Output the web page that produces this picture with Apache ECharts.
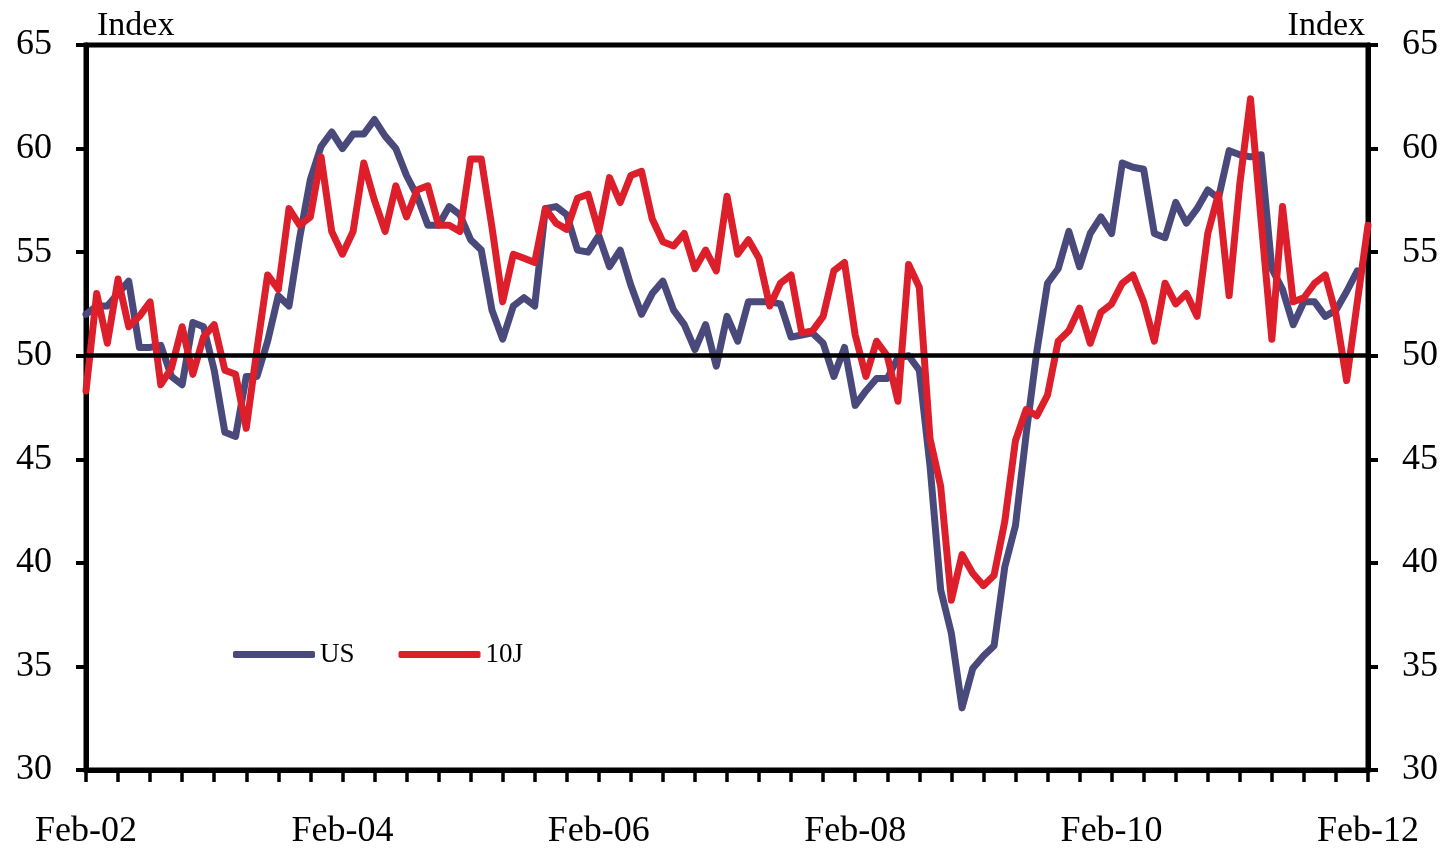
<!DOCTYPE html>
<html>
<head>
<meta charset="utf-8">
<script src="https://cdn.jsdelivr.net/npm/echarts@6/dist/echarts.min.js"></script>
<style>
  html, body { margin: 0; padding: 0; background: #fff; }
  #main { width: 1448px; height: 850px; }
</style>
</head>
<body>
<div id="main"></div>
<script>
// monthly, Feb-02 .. Feb-12
var monthNames = ['Jan', 'Feb', 'Mar', 'Apr', 'May', 'Jun', 'Jul', 'Aug', 'Sep', 'Oct', 'Nov', 'Dec'];
var startYear = 2002, startMonth = 1, nMonths = 121;

// US index (last reading Jan-12)
var usData = [
  52.0, 52.4, 52.4, 53.0, 53.6, 50.4, 50.4, 50.5, 49.0, 48.6, 51.6, 51.4,
  49.3, 46.3, 46.1, 49.0, 49.0, 50.7, 52.9, 52.4, 55.7, 58.5, 60.1, 60.8,
  60.0, 60.7, 60.7, 61.4, 60.6, 60.0, 58.7, 57.7, 56.3, 56.3, 57.2, 56.8,
  55.6, 55.1, 52.2, 50.8, 52.4, 52.8, 52.4, 57.1, 57.2, 56.8, 55.1, 55.0,
  55.8, 54.3, 55.1, 53.4, 52.0, 53.0, 53.6, 52.2, 51.5, 50.3, 51.5, 49.5,
  51.9, 50.7, 52.6, 52.6, 52.6, 52.5, 50.9, 51.0, 51.1, 50.6, 49.0, 50.4,
  47.6, 48.3, 48.9, 48.9, 49.9, 50.0, 49.3, 44.7, 38.7, 36.6, 33.0, 34.9,
  35.5, 36.0, 39.8, 41.8, 46.2, 50.2, 53.5, 54.2, 56.0, 54.3, 55.9, 56.7,
  55.9, 59.3, 59.1, 59.0, 55.9, 55.7, 57.4, 56.4, 57.1, 58.0, 57.6, 59.9,
  59.7, 59.6, 59.7, 54.2, 53.2, 51.5, 52.6, 52.6, 51.9, 52.2, 53.1, 54.1
];

// 10J index
var tenJData = [
  48.3, 53.0, 50.6, 53.7, 51.4, 51.9, 52.6, 48.6, 49.4, 51.4, 49.1, 50.9,
  51.5, 49.3, 49.1, 46.5, 50.3, 53.9, 53.2, 57.1, 56.3, 56.7, 59.6, 56.0,
  54.9, 56.0, 59.3, 57.5, 56.0, 58.2, 56.7, 58.0, 58.2, 56.3, 56.3, 56.0,
  59.5, 59.5, 56.2, 52.6, 54.9, 54.7, 54.5, 57.1, 56.4, 56.1, 57.6, 57.8,
  56.0, 58.6, 57.4, 58.7, 58.9, 56.6, 55.5, 55.3, 55.9, 54.2, 55.1, 54.1,
  57.7, 54.9, 55.6, 54.7, 52.4, 53.5, 53.9, 51.1, 51.2, 51.9, 54.1, 54.5,
  51.0, 49.0, 50.7, 50.0, 47.8, 54.4, 53.3, 46.0, 43.7, 38.2, 40.4, 39.5,
  38.9, 39.4, 42.0, 45.9, 47.4, 47.1, 48.1, 50.7, 51.2, 52.3, 50.6, 52.1,
  52.5, 53.5, 53.9, 52.6, 50.7, 53.5, 52.5, 53.0, 51.9, 55.9, 57.8, 52.9,
  58.3, 62.4, 56.5, 50.8, 57.2, 52.6, 52.8, 53.5, 53.9, 52.0, 48.8, 52.6,
  56.3
];

var yTicks = [30, 35, 40, 45, 50, 55, 60, 65];

var categories = [];
for (var k = 0; k < nMonths; k++) {
  var m = (startMonth + k) % 12;
  var y = startYear + Math.floor((startMonth + k) / 12);
  categories.push(monthNames[m] + '-' + String(y % 100).padStart(2, '0'));
}

var FONT = '"Liberation Serif", "Times New Roman", serif';
var US_COLOR = '#4a497b';
var TENJ_COLOR = '#dc1f2b';

function yAxisCfg(pos) {
  return {
    type: 'value',
    position: pos,
    min: yTicks[0],
    max: yTicks[yTicks.length - 1],
    interval: 5,
    axisLine: { show: true, lineStyle: { color: '#000', width: 5 } },
    axisTick: { show: true, inside: false, length: 10, lineStyle: { color: '#000', width: 4 } },
    axisLabel: { margin: 34, color: '#000', fontFamily: FONT, fontSize: 36 },
    splitLine: { show: false }
  };
}

var chart = echarts.init(document.getElementById('main'));
chart.setOption({
  animation: false,
  backgroundColor: '#fff',
  grid: {
    left: 86, right: 80, top: 45, bottom: 77,
    show: true, borderColor: '#000', borderWidth: 5
  },
  legend: {
    left: 228,
    top: 636,
    itemWidth: 82,
    itemHeight: 7,
    itemGap: 44,
    icon: 'roundRect',
    textStyle: { fontFamily: FONT, fontSize: 27, color: '#000' },
    data: ['US', '10J']
  },
  graphic: [
    { type: 'text', left: 97, top: 9, style: { text: 'Index', font: '34px ' + FONT, fill: '#000' } },
    { type: 'text', right: 83, top: 9, style: { text: 'Index', font: '34px ' + FONT, fill: '#000' } }
  ],
  xAxis: {
    type: 'category',
    data: categories,
    boundaryGap: false,
    axisLine: { lineStyle: { color: '#000', width: 5 } },
    axisTick: { interval: 2, length: 12, lineStyle: { color: '#000', width: 3.5 } },
    axisLabel: {
      interval: 23, margin: 44, showMinLabel: true, showMaxLabel: true,
      color: '#000', fontFamily: FONT, fontSize: 36
    },
    splitLine: { show: false }
  },
  yAxis: [yAxisCfg('left'), yAxisCfg('right')],
  series: [
    {
      name: 'US',
      type: 'line',
      data: usData,
      showSymbol: false,
      symbol: 'none',
      itemStyle: { color: US_COLOR },
      lineStyle: { color: US_COLOR, width: 7, join: 'round', cap: 'round' }
    },
    {
      name: '10J',
      type: 'line',
      data: tenJData,
      showSymbol: false,
      symbol: 'none',
      itemStyle: { color: TENJ_COLOR },
      lineStyle: { color: TENJ_COLOR, width: 7, join: 'round', cap: 'round' },
      markLine: {
        silent: true,
        symbol: 'none',
        label: { show: false },
        lineStyle: { color: '#000', width: 4.5, type: 'solid' },
        data: [{ yAxis: 50 }]
      }
    }
  ]
});
</script>
</body>
</html>
